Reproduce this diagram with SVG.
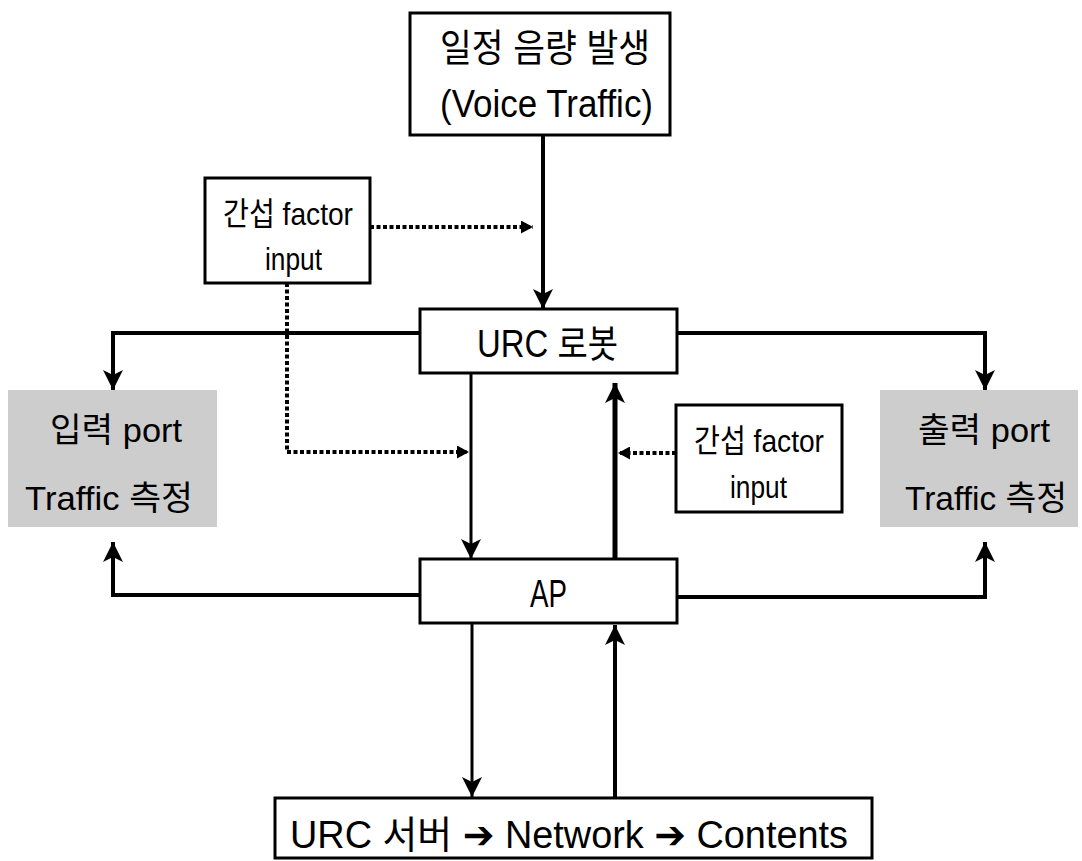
<svg xmlns="http://www.w3.org/2000/svg" width="1082" height="861" viewBox="0 0 1082 861">
<style>
  .box { fill: #ffffff; stroke: #000000; stroke-width: 3; }
  .gray { fill: #cdcdcd; stroke: none; }
  .t { font-family: "Liberation Sans", "Noto Sans CJK KR", sans-serif; fill: #000000; }
  .big { font-size: 38px; }
  .port { font-size: 34px; }
  .mid { font-size: 32px; }
  .line { fill: none; stroke: #000000; stroke-width: 4; }
  .thin { fill: none; stroke: #000000; stroke-width: 3; }
  .thick { fill: none; stroke: #000000; stroke-width: 5; }
  .dot { fill: none; stroke: #000000; stroke-width: 4; stroke-dasharray: 4 2.5; }
</style>
<defs>
  <marker id="arr" markerUnits="userSpaceOnUse" markerWidth="21" markerHeight="20" refX="20" refY="10" orient="auto">
    <path d="M0,0 L20,10 L0,20 L5,10 Z" fill="#000000"/>
  </marker>
  <marker id="arrS" markerUnits="userSpaceOnUse" markerWidth="13" markerHeight="13" refX="12" refY="6.5" orient="auto">
    <path d="M0,0 L12,6.5 L0,13 Z" fill="#000000"/>
  </marker>
</defs>

<g id="connectors">
  <path class="line" d="M543,135 V309" marker-end="url(#arr)"/>
  <path class="dot" d="M370,227 H533" marker-end="url(#arrS)"/>
  <path class="dot" d="M287,283 V452 H469" marker-end="url(#arrS)"/>
  <path class="line" d="M420,333 H113 V390" marker-end="url(#arr)"/>
  <path class="line" d="M677,333 H985 V390" marker-end="url(#arr)"/>
  <path class="thin" d="M471,373 V559" marker-end="url(#arr)"/>
  <path class="thick" d="M615,559 V383" marker-end="url(#arr)"/>
  <path class="dot" d="M676,453 H618" marker-end="url(#arrS)"/>
  <path class="line" d="M420,595 H113 V542" marker-end="url(#arr)"/>
  <path class="line" d="M677,597 H985 V542" marker-end="url(#arr)"/>
  <path class="thin" d="M472,623 V797" marker-end="url(#arr)"/>
  <path class="line" d="M615,797 V625" marker-end="url(#arr)"/>
</g>

<g id="voice">
  <rect class="box" x="410" y="13" width="260" height="122"/>
  <text class="t big" x="440" y="61" textLength="210" lengthAdjust="spacingAndGlyphs">일정 음량 발생</text>
  <text class="t big" x="440" y="117" textLength="213" lengthAdjust="spacingAndGlyphs">(Voice Traffic)</text>
</g>

<g id="interf-left">
  <rect class="box" x="205" y="178" width="165" height="105"/>
  <text class="t mid" x="223" y="225" textLength="130" lengthAdjust="spacingAndGlyphs">간섭 factor</text>
  <text class="t mid" x="265" y="270" textLength="57" lengthAdjust="spacingAndGlyphs">input</text>
</g>

<g id="robot">
  <rect class="box" x="420" y="309" width="257" height="64"/>
  <text class="t big" x="477" y="357" textLength="141" lengthAdjust="spacingAndGlyphs">URC 로봇</text>
</g>

<g id="in-port">
  <rect class="gray" x="8" y="390" width="209" height="137"/>
  <text class="t port" x="50" y="442" textLength="132" lengthAdjust="spacingAndGlyphs">입력 port</text>
  <text class="t port" x="25" y="510" textLength="168" lengthAdjust="spacingAndGlyphs">Traffic 측정</text>
</g>

<g id="out-port">
  <rect class="gray" x="880" y="390" width="198" height="137"/>
  <text class="t port" x="918" y="442" textLength="132" lengthAdjust="spacingAndGlyphs">출력 port</text>
  <text class="t port" x="905" y="510" textLength="162" lengthAdjust="spacingAndGlyphs">Traffic 측정</text>
</g>

<g id="interf-right">
  <rect class="box" x="676" y="405" width="166" height="107"/>
  <text class="t mid" x="694" y="452" textLength="130" lengthAdjust="spacingAndGlyphs">간섭 factor</text>
  <text class="t mid" x="730" y="498" textLength="57" lengthAdjust="spacingAndGlyphs">input</text>
</g>

<g id="ap">
  <rect class="box" x="420" y="559" width="257" height="64"/>
  <text class="t big" x="530" y="607" textLength="37" lengthAdjust="spacingAndGlyphs">AP</text>
</g>

<g id="server">
  <rect class="box" x="275" y="798" width="597" height="60"/>
  <text class="t big" x="290" y="848" textLength="558" lengthAdjust="spacingAndGlyphs">URC 서버 <tspan font-family="DejaVu Sans, sans-serif">➔</tspan> Network <tspan font-family="DejaVu Sans, sans-serif">➔</tspan> Contents</text>
</g>
</svg>
